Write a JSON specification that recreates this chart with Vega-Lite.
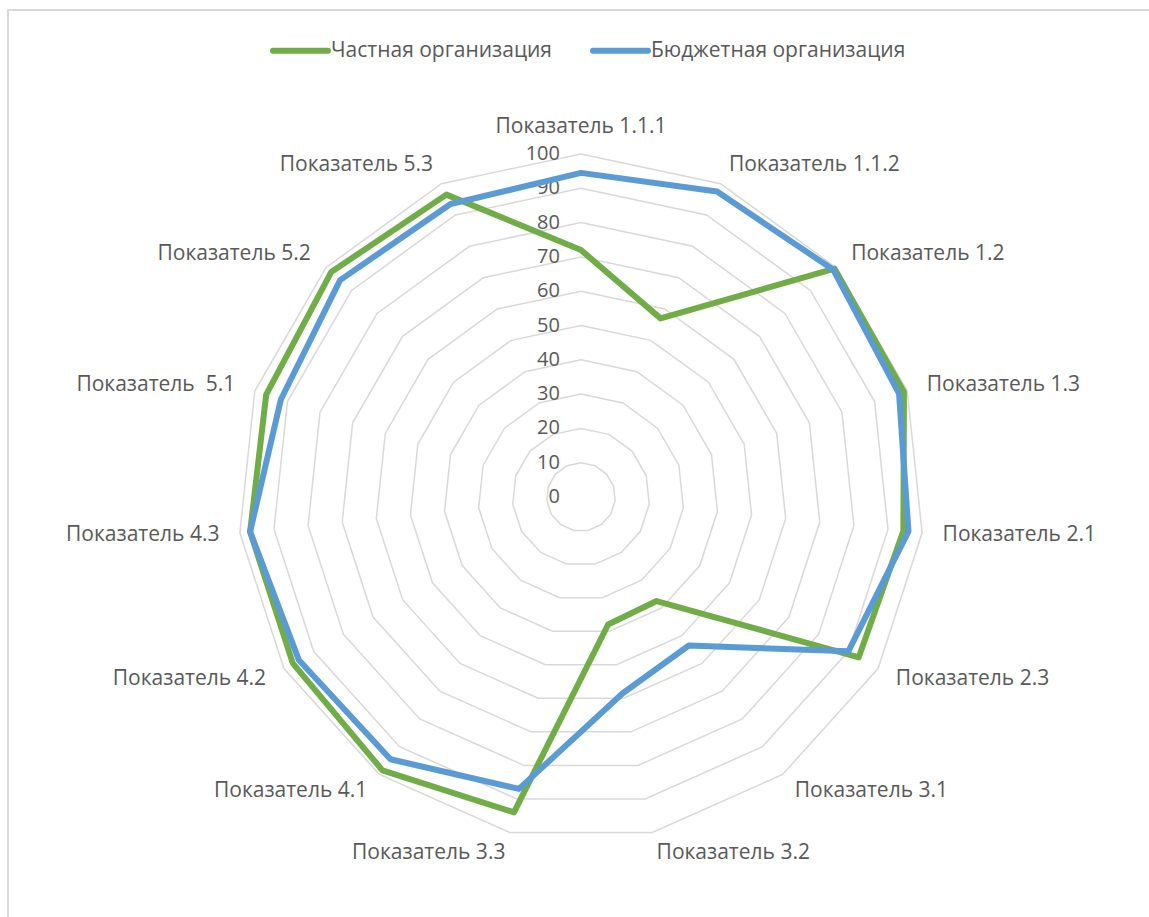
{
  "$schema": "https://vega.github.io/schema/vega-lite/v6.json",
  "width": 1150,
  "height": 920,
  "autosize": {"type": "none"},
  "padding": {"left": 8, "top": 10, "right": 0, "bottom": 0},
  "background": "white",
  "config": {
    "view": {"stroke": "#d9d9d9", "strokeWidth": 2},
    "font": "Open Sans",
    "text": {"font": "Open Sans"}
  },
  "datasets": {
    "scores": [
      {"cat": "Показатель 1.1.1", "idx": 0, "series": "Частная организация", "value": 72},
      {"cat": "Показатель 1.1.2", "idx": 1, "series": "Частная организация", "value": 57},
      {"cat": "Показатель 1.2", "idx": 2, "series": "Частная организация", "value": 99.5},
      {"cat": "Показатель 1.3", "idx": 3, "series": "Частная организация", "value": 99},
      {"cat": "Показатель 2.1", "idx": 4, "series": "Частная организация", "value": 94.5},
      {"cat": "Показатель 2.3", "idx": 5, "series": "Частная организация", "value": 93.5},
      {"cat": "Показатель 3.1", "idx": 6, "series": "Частная организация", "value": 37.5},
      {"cat": "Показатель 3.2", "idx": 7, "series": "Частная организация", "value": 38},
      {"cat": "Показатель 3.3", "idx": 8, "series": "Частная организация", "value": 94},
      {"cat": "Показатель 4.1", "idx": 9, "series": "Частная организация", "value": 98.5},
      {"cat": "Показатель 4.2", "idx": 10, "series": "Частная организация", "value": 97},
      {"cat": "Показатель 4.3", "idx": 11, "series": "Частная организация", "value": 97},
      {"cat": "Показатель \u00a05.1", "idx": 12, "series": "Частная организация", "value": 96.5},
      {"cat": "Показатель 5.2", "idx": 13, "series": "Частная организация", "value": 98},
      {"cat": "Показатель 5.3", "idx": 14, "series": "Частная организация", "value": 96.5},
      {"cat": "Показатель 1.1.1", "idx": 0, "series": "Бюджетная организация", "value": 94.5},
      {"cat": "Показатель 1.1.2", "idx": 1, "series": "Бюджетная организация", "value": 97.5},
      {"cat": "Показатель 1.2", "idx": 2, "series": "Бюджетная организация", "value": 99},
      {"cat": "Показатель 1.3", "idx": 3, "series": "Бюджетная организация", "value": 97.5},
      {"cat": "Показатель 2.1", "idx": 4, "series": "Бюджетная организация", "value": 96},
      {"cat": "Показатель 2.3", "idx": 5, "series": "Бюджетная организация", "value": 90},
      {"cat": "Показатель 3.1", "idx": 6, "series": "Бюджетная организация", "value": 53.5},
      {"cat": "Показатель 3.2", "idx": 7, "series": "Бюджетная организация", "value": 58.5},
      {"cat": "Показатель 3.3", "idx": 8, "series": "Бюджетная организация", "value": 87},
      {"cat": "Показатель 4.1", "idx": 9, "series": "Бюджетная организация", "value": 94.5},
      {"cat": "Показатель 4.2", "idx": 10, "series": "Бюджетная организация", "value": 95},
      {"cat": "Показатель 4.3", "idx": 11, "series": "Бюджетная организация", "value": 97},
      {"cat": "Показатель \u00a05.1", "idx": 12, "series": "Бюджетная организация", "value": 92},
      {"cat": "Показатель 5.2", "idx": 13, "series": "Бюджетная организация", "value": 94.5},
      {"cat": "Показатель 5.3", "idx": 14, "series": "Бюджетная организация", "value": 93.5}
    ],
    "rings": [
      {"level": 10, "k": [0,1,2,3,4,5,6,7,8,9,10,11,12,13,14]},
      {"level": 20, "k": [0,1,2,3,4,5,6,7,8,9,10,11,12,13,14]},
      {"level": 30, "k": [0,1,2,3,4,5,6,7,8,9,10,11,12,13,14]},
      {"level": 40, "k": [0,1,2,3,4,5,6,7,8,9,10,11,12,13,14]},
      {"level": 50, "k": [0,1,2,3,4,5,6,7,8,9,10,11,12,13,14]},
      {"level": 60, "k": [0,1,2,3,4,5,6,7,8,9,10,11,12,13,14]},
      {"level": 70, "k": [0,1,2,3,4,5,6,7,8,9,10,11,12,13,14]},
      {"level": 80, "k": [0,1,2,3,4,5,6,7,8,9,10,11,12,13,14]},
      {"level": 90, "k": [0,1,2,3,4,5,6,7,8,9,10,11,12,13,14]},
      {"level": 100, "k": [0,1,2,3,4,5,6,7,8,9,10,11,12,13,14]}
    ],
    "ticks": [
      {"level": 0}, {"level": 10}, {"level": 20}, {"level": 30}, {"level": 40},
      {"level": 50}, {"level": 60}, {"level": 70}, {"level": 80}, {"level": 90}, {"level": 100}
    ]
  },
  "layer": [
    {
      "data": {"name": "rings"},
      "transform": [
        {"flatten": ["k"]},
        {"calculate": "datum.k * 2 * PI / 15", "as": "a"},
        {"calculate": "datum.level * sin(datum.a)", "as": "x"},
        {"calculate": "datum.level * cos(datum.a)", "as": "y"}
      ],
      "mark": {"type": "line", "interpolate": "linear-closed", "stroke": "#d9d9d9", "strokeWidth": 1.5},
      "encoding": {
        "x": {"field": "x", "type": "quantitative", "scale": {"domain": [-167.055, 168.222], "nice": false, "zero": false}, "axis": null},
        "y": {"field": "y", "type": "quantitative", "scale": {"domain": [-126.239, 141.983], "nice": false, "zero": false}, "axis": null},
        "detail": {"field": "level", "type": "nominal"},
        "order": {"field": "k", "type": "quantitative"}
      }
    },
    {
      "data": {"name": "ticks"},
      "transform": [
        {"calculate": "0", "as": "x"}
      ],
      "mark": {"type": "text", "align": "right", "baseline": "middle", "dx": -21, "fontSize": 20, "color": "#595959"},
      "encoding": {
        "x": {"field": "x", "type": "quantitative"},
        "y": {"field": "level", "type": "quantitative"},
        "text": {"field": "level", "type": "quantitative"}
      }
    },
    {
      "data": {"name": "scores"},
      "transform": [
        {"filter": "datum.series === 'Частная организация'"},
        {"calculate": "datum.idx * 2 * PI / 15", "as": "a"},
        {"calculate": "datum.value * sin(datum.a)", "as": "x"},
        {"calculate": "datum.value * cos(datum.a)", "as": "y"}
      ],
      "mark": {"type": "line", "interpolate": "linear-closed", "strokeWidth": 6, "strokeJoin": "round"},
      "encoding": {
        "x": {"field": "x", "type": "quantitative"},
        "y": {"field": "y", "type": "quantitative"},
        "color": {
          "field": "series", "type": "nominal",
          "scale": {"domain": ["Частная организация", "Бюджетная организация"], "range": ["#70AD47", "#5B9BD5"]},
          "legend": {
            "title": null, "orient": "none", "legendX": 262, "legendY": 10,
            "direction": "horizontal", "symbolType": "stroke", "symbolSize": 3025,
            "symbolStrokeWidth": 6, "labelFontSize": 21, "labelColor": "#595959",
            "labelFont": "Open Sans", "labelOffset": 0, "columnPadding": 28, "labelLimit": 0,
            "encode": {"symbols": {"update": {"strokeCap": {"value": "round"}}}}
          }
        },
        "order": {"field": "idx", "type": "quantitative"}
      }
    },
    {
      "data": {"name": "scores"},
      "transform": [
        {"filter": "datum.series === 'Бюджетная организация'"},
        {"calculate": "datum.idx * 2 * PI / 15", "as": "a"},
        {"calculate": "datum.value * sin(datum.a)", "as": "x"},
        {"calculate": "datum.value * cos(datum.a)", "as": "y"}
      ],
      "mark": {"type": "line", "interpolate": "linear-closed", "strokeWidth": 6, "strokeJoin": "round"},
      "encoding": {
        "x": {"field": "x", "type": "quantitative"},
        "y": {"field": "y", "type": "quantitative"},
        "color": {"field": "series", "type": "nominal"},
        "order": {"field": "idx", "type": "quantitative"}
      }
    },
    {
      "data": {"name": "scores"},
      "transform": [
        {"filter": "datum.series === 'Частная организация' && datum.idx === 0"},
        {"calculate": "0", "as": "x"},
        {"calculate": "108", "as": "y"}
      ],
      "mark": {"type": "text", "align": "center", "baseline": "middle", "fontSize": 21, "color": "#595959"},
      "encoding": {
        "x": {"field": "x", "type": "quantitative"},
        "y": {"field": "y", "type": "quantitative"},
        "text": {"field": "cat"}
      }
    },
    {
      "data": {"name": "scores"},
      "transform": [
        {"filter": "datum.series === 'Частная организация' && datum.idx >= 1 && datum.idx <= 7"},
        {"calculate": "datum.idx * 2 * PI / 15", "as": "a"},
        {"calculate": "106 * sin(datum.a)", "as": "x"},
        {"calculate": "106 * cos(datum.a)", "as": "y"}
      ],
      "mark": {"type": "text", "align": "left", "baseline": "middle", "fontSize": 21, "color": "#595959"},
      "encoding": {
        "x": {"field": "x", "type": "quantitative"},
        "y": {"field": "y", "type": "quantitative"},
        "text": {"field": "cat"}
      }
    },
    {
      "data": {"name": "scores"},
      "transform": [
        {"filter": "datum.series === 'Частная организация' && datum.idx >= 8"},
        {"calculate": "datum.idx * 2 * PI / 15", "as": "a"},
        {"calculate": "106 * sin(datum.a)", "as": "x"},
        {"calculate": "106 * cos(datum.a)", "as": "y"}
      ],
      "mark": {"type": "text", "align": "right", "baseline": "middle", "fontSize": 21, "color": "#595959"},
      "encoding": {
        "x": {"field": "x", "type": "quantitative"},
        "y": {"field": "y", "type": "quantitative"},
        "text": {"field": "cat"}
      }
    }
  ]
}
